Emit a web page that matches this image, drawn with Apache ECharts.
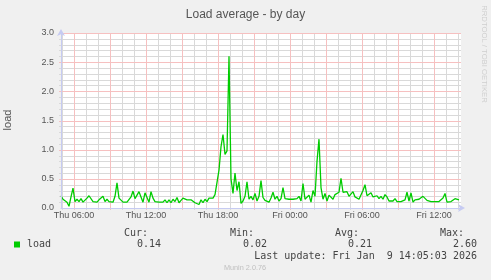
<!DOCTYPE html>
<html><head><meta charset="utf-8">
<script src="https://cdn.jsdelivr.net/npm/echarts@6/dist/echarts.min.js"></script>
<style>html,body{margin:0;padding:0;background:#f0f0f0;}#c{width:491px;height:280px;}</style>
</head><body><div id="c"></div><script>
const TITLE = 'Load average - by day';
const Y_NAME = 'load';
const SIDE_TEXT = 'RRDTOOL / TOBI OETIKER';
const FOOTER = 'Munin 2.0.76';
const LAST_UPDATE = 'Last update: Fri Jan  9 14:05:03 2026';
const SERIES_NAME = 'load';

// hours since Thu 00:00
const START_HOUR = 4 + 55 / 60;   // Thu 04:55
const STEP_HOURS = 10 / 60;       // 10-minute samples
const X_MIN = START_HOUR;
const X_MAX = 38.25;              // Fri 14:15
const Y_MIN = 0, Y_MAX = 3, Y_STEP = 0.5, Y_MINOR_STEP = 0.1;

const TICK_HOURS = [6, 12, 18, 24, 30, 36];
const TICK_LABELS = ['Thu 06:00', 'Thu 12:00', 'Thu 18:00', 'Fri 00:00', 'Fri 06:00', 'Fri 12:00'];

// Thu 04:55 - Thu 15:55
const LOAD_MORNING = [
  0.21,0.15,0.13,0.10,0.03,0.19,0.34,0.11,0.15,0.11,
  0.16,0.10,0.09,0.17,0.21,0.19,0.11,0.14,0.10,0.14,
  0.13,0.20,0.11,0.15,0.11,0.14,0.10,0.20,0.43,0.17,
  0.14,0.10,0.13,0.10,0.11,0.19,0.29,0.16,0.13,0.28,
  0.19,0.10,0.26,0.26,0.10,0.28,0.17,0.11,0.14,0.10,
  0.07,0.10,0.14,0.09,0.14,0.09,0.15,0.11,0.18,0.09,
  0.13,0.17,0.20,0.14,0.11,0.14,0.15
];
// Thu 16:05 - Fri 03:15
const LOAD_EVENING = [
  0.09,0.11,0.06,0.14,0.09,0.15,0.11,0.17,0.20,0.17,
  0.23,0.25,0.65,1.05,1.26,0.92,0.98,2.60,0.50,0.25,
  0.60,0.30,0.45,0.08,0.12,0.20,0.45,0.15,0.20,0.14,
  0.25,0.12,0.20,0.47,0.18,0.13,0.14,0.10,0.17,0.27,
  0.15,0.20,0.12,0.16,0.35,0.16,0.14,0.15,0.12,0.15,
  0.13,0.16,0.20,0.12,0.42,0.15,0.12,0.22,0.10,0.30,
  0.20,0.80,1.18,0.35,0.15,0.25,0.12,0.22
];
// Fri 03:25 - Fri 14:05
const LOAD_FRIDAY = [
  0.23,0.15,0.23,0.20,0.27,0.51,0.27,0.24,0.28,0.20,
  0.23,0.28,0.19,0.16,0.15,0.17,0.30,0.40,0.21,0.18,
  0.26,0.19,0.20,0.21,0.16,0.20,0.15,0.23,0.19,0.12,
  0.14,0.12,0.16,0.11,0.11,0.11,0.10,0.14,0.27,0.12,
  0.26,0.10,0.14,0.13,0.15,0.13,0.20,0.20,0.13,0.15,
  0.11,0.13,0.11,0.14,0.11,0.10,0.17,0.25,0.10,0.13,
  0.11,0.10,0.16,0.13,0.14
];

const LEGEND_HEADERS = ['Cur:', 'Min:', 'Avg:', 'Max:'];
const LEGEND_VALUES = ['0.14', '0.02', '0.21', '2.60'];

const LOAD = LOAD_MORNING.concat(LOAD_EVENING, LOAD_FRIDAY);
const seriesData = LOAD.map((v, i) => [START_HOUR + i * STEP_HOURS, v]);

// grid positions
const V_MAJOR = [], V_MINOR = [];
for (let h = Math.ceil(X_MIN); h <= Math.floor(X_MAX); h++) {
  (h % 3 === 0 ? V_MAJOR : V_MINOR).push(h);
}
const H_MAJOR = [], H_MINOR = [];
for (let k = 1; k < Math.round((Y_MAX - Y_MIN) / Y_MINOR_STEP) + 1; k++) {
  const v = +(Y_MIN + k * Y_MINOR_STEP).toFixed(2);
  (k % 5 === 0 ? H_MAJOR : H_MINOR).push(v);
}

const GRID_GRAY = '#d9d9d9';
const GRID_RED = '#f6c0c0';
const AXIS_COLOR = '#c6cbf2';
const TXT = '#555555';
const SANS = 'Liberation Sans';
const MONO = 'DejaVu Sans Mono';

function vGrid(hours, color, z) {
  return {
    type: 'custom', silent: true, z: z, animation: false,
    data: hours.map(h => [h, Y_MIN]),
    encode: { x: 0, y: 1 },
    renderItem(params, api) {
      const a = api.coord([api.value(0), Y_MIN]);
      const b = api.coord([api.value(0), Y_MAX]);
      const x = Math.round(a[0]) + 0.5;
      return { type: 'line', silent: true,
        shape: { x1: x, y1: a[1] + 2, x2: x, y2: b[1] },
        style: { stroke: color, lineWidth: 1 } };
    }
  };
}
function hGrid(vals, color, z) {
  return {
    type: 'custom', silent: true, z: z, animation: false,
    data: vals.map(v => [X_MIN, v]),
    encode: { x: 0, y: 1 },
    renderItem(params, api) {
      const a = api.coord([X_MIN, api.value(1)]);
      const b = api.coord([X_MAX, api.value(1)]);
      const y = Math.round(a[1]) + 0.5;
      return { type: 'line', silent: true,
        shape: { x1: a[0] - 2, y1: y, x2: b[0], y2: y },
        style: { stroke: color, lineWidth: 1 } };
    }
  };
}

const chart = echarts.init(document.getElementById('c'), null, { renderer: 'canvas' });

const legendGraphics = [];
const headerRight = [148, 254, 359, 464];
LEGEND_HEADERS.forEach((t, i) => {
  legendGraphics.push({ type: 'text', x: headerRight[i], y: 233,
    style: { text: t, align: 'right', verticalAlign: 'middle', font: '10px "' + MONO + '"', fill: '#444' } });
  legendGraphics.push({ type: 'text', x: headerRight[i] + 13, y: 244.5,
    style: { text: LEGEND_VALUES[i], align: 'right', verticalAlign: 'middle', font: '10px "' + MONO + '"', fill: '#444' } });
});

chart.setOption({
  backgroundColor: '#f0f0f0',
  animation: false,
  title: {
    text: TITLE, left: 'center', top: 4,
    textStyle: { fontFamily: SANS, fontSize: 12, fontWeight: 'normal', color: TXT }
  },
  grid: {
    left: 61, right: 30, top: 33, bottom: 72,
    show: true, backgroundColor: '#ffffff', borderWidth: 0
  },
  xAxis: {
    type: 'value', min: X_MIN, max: X_MAX, z: 5,
    axisLine: { show: true, lineStyle: { color: AXIS_COLOR, width: 1 },
      symbol: ['none', 'arrow'], symbolSize: [6, 7], symbolOffset: [0, 4] },
    axisTick: { show: false },
    splitLine: { show: false },
    axisLabel: {
      customValues: TICK_HOURS,
      formatter: v => TICK_LABELS[TICK_HOURS.indexOf(v)] || '',
      fontFamily: SANS, fontSize: 9, color: TXT, margin: 3
    }
  },
  yAxis: {
    type: 'value', min: Y_MIN, max: Y_MAX, interval: Y_STEP, z: 5,
    axisLine: { show: true, lineStyle: { color: AXIS_COLOR, width: 1 },
      symbol: ['none', 'arrow'], symbolSize: [6, 7], symbolOffset: [0, 4] },
    axisTick: { show: false },
    splitLine: { show: false },
    axisLabel: { fontFamily: SANS, fontSize: 9, color: TXT, margin: 7, formatter: v => v.toFixed(1) }
  },
  series: [
    vGrid(V_MINOR, GRID_GRAY, 1),
    hGrid(H_MINOR, GRID_GRAY, 1),
    vGrid(V_MAJOR, GRID_RED, 2),
    hGrid(H_MAJOR, GRID_RED, 2),
    {
      name: SERIES_NAME, type: 'line', z: 3, data: seriesData,
      showSymbol: false, symbol: 'none', animation: false,
      lineStyle: { color: '#00cc00', width: 1.3 }
    }
  ],
  graphic: [
    { type: 'text', x: 8, y: 120, rotation: Math.PI / 2,
      style: { text: Y_NAME, align: 'center', verticalAlign: 'middle', font: '11px "' + SANS + '"', fill: TXT } },
    { type: 'text', x: 484, y: 54, rotation: -Math.PI / 2,
      style: { text: SIDE_TEXT, align: 'center', verticalAlign: 'middle', font: '7.7px "' + SANS + '"', fill: '#cfcfcf' } },
    { type: 'rect', shape: { x: 14, y: 241.5, width: 6, height: 6 }, style: { fill: '#00cc00' } },
    { type: 'text', x: 27, y: 244.5,
      style: { text: SERIES_NAME, align: 'left', verticalAlign: 'middle', font: '10px "' + MONO + '"', fill: '#444' } },
    ...legendGraphics,
    { type: 'text', x: 477, y: 256.5,
      style: { text: LAST_UPDATE, align: 'right', verticalAlign: 'middle', font: '10px "' + MONO + '"', fill: '#444' } },
    { type: 'text', x: 245, y: 268,
      style: { text: FOOTER, align: 'center', verticalAlign: 'middle', font: '7.3px "' + SANS + '"', fill: '#c0c0c0' } }
  ]
});
</script></body></html>
